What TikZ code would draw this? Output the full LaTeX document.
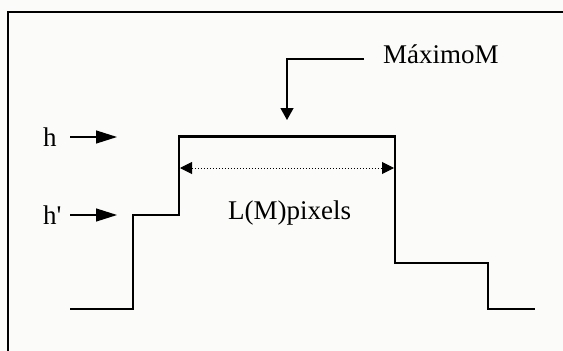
\documentclass[tikz,border=0pt]{standalone}
\usepackage{fontspec}
\setmainfont{Liberation Serif}
\usetikzlibrary{arrows.meta}
\definecolor{bgpaper}{HTML}{FBFBF9}
\tikzset{
  lbl/.style={anchor=base west, inner sep=0pt, font=\fontsize{27}{30}\selectfont},
  thinline/.style={line width=1.3pt, line join=miter},
  thickline/.style={line width=3pt},
  harrow/.style={line width=1.3pt, -{Triangle[length=21pt,width=13pt]}},
  varrow/.style={line width=1.3pt, -{Triangle[length=12pt,width=13pt]}},
  darrow/.style={line width=1pt, dotted, {Triangle[length=12pt,width=12pt]}-{Triangle[length=12pt,width=12pt]}}
}
\begin{document}
\begin{tikzpicture}[x=1pt,y=-1pt]
  \fill[bgpaper] (0,0) rectangle (563,351);
  \useasboundingbox (0,0) rectangle (563,351);
  % frame (only top and left edges visible)
  \draw[line width=1.6pt] (563,12) -- (8,12) -- (8,351);
  % profile points
  \coordinate (p1) at (70,309);
  \coordinate (p2) at (133,309);
  \coordinate (p3) at (133,215);
  \coordinate (p4) at (179,215);
  \coordinate (p5) at (179,136);
  \coordinate (p6) at (395,136);
  \coordinate (p7) at (395,263);
  \coordinate (p8) at (488,263);
  \coordinate (p9) at (488,309);
  \coordinate (p10) at (535,309);
  \draw[thinline] (p1) -- (p2) -- (p3) -- (p4) -- (p5);
  \draw[thinline] (p6) -- (p7) -- (p8) -- (p9) -- (p10);
  \draw[thickline] ([xshift=-0.6pt]p5) -- ([xshift=0.6pt]p6);
  % labels
  \node[lbl] (max) at (383,63) {MáximoM};
  \node[lbl] (h) at (43,146) {h};
  \node[lbl] (hp) at (43,224) {h\textquotesingle};
  \node[lbl] (len) at (228,219) {L(M)pixels};
  % arrows
  \coordinate (ms) at (364,59);
  \coordinate (mc) at (287,59);
  \coordinate (mt) at (287,120);
  \draw[varrow] (ms) -- (mc) -- (mt);
  \coordinate (hs) at (70,137);
  \coordinate (he) at (117,137);
  \draw[harrow] (hs) -- (he);
  \coordinate (hps) at (70,215);
  \coordinate (hpe) at (117,215);
  \draw[harrow] (hps) -- (hpe);
  \coordinate (ds) at (180,168);
  \coordinate (de) at (394,168);
  \draw[darrow] (ds) -- (de);
\end{tikzpicture}
\end{document}
